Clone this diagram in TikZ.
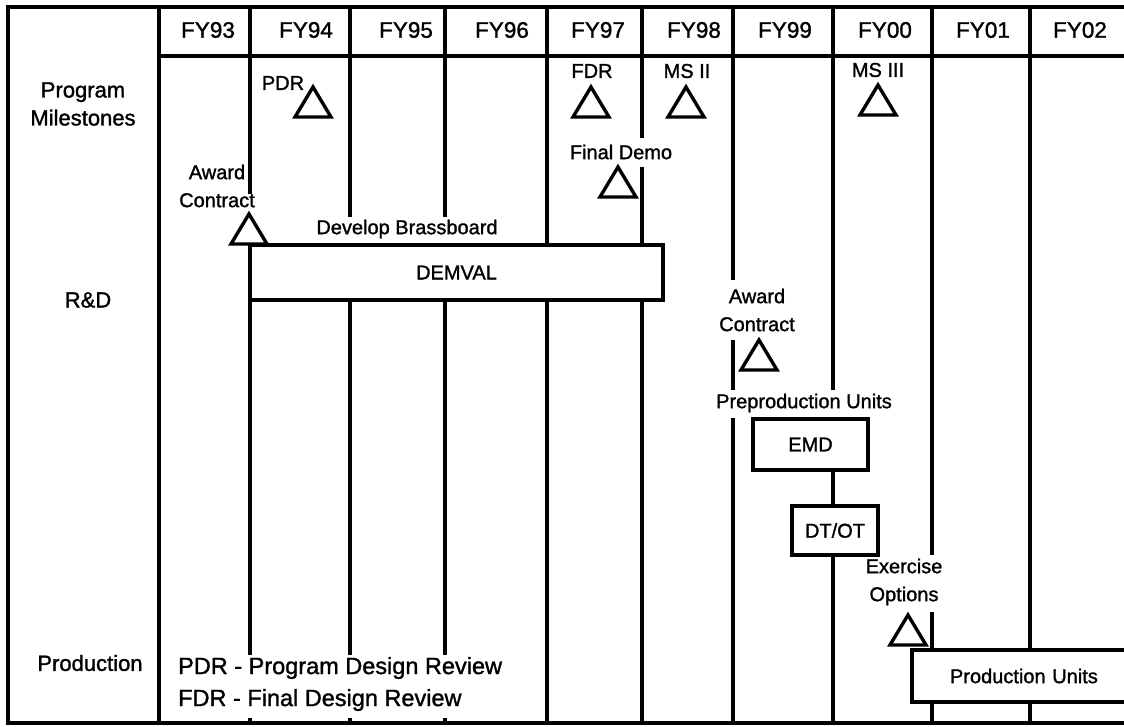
\documentclass[tikz,border=0pt]{standalone}
\usepackage{fontspec}
\setmainfont{Liberation Sans}[BoldFont={Liberation Sans},BoldFeatures={FakeBold=1.3}]
\newcommand{\hdrfont}{\fontsize{22.5}{26}\selectfont\bfseries}
\newcommand{\sidefont}{\fontsize{22}{28}\selectfont\bfseries}
\newcommand{\lblfont}{\fontsize{20}{28}\selectfont\bfseries}
\newcommand{\legfont}{\fontsize{23.5}{32}\selectfont\bfseries}
\begin{document}
\begin{tikzpicture}[x=1pt,y=-1pt,
  gridline/.style={line width=3.2pt},
  tri/.style={line width=3.4pt, line join=miter},
  hdr/.style={font=\hdrfont, inner sep=0pt},
  side/.style={font=\sidefont, inner sep=0pt, align=center},
  lbl/.style={font=\lblfont, inner sep=0pt, align=center},
  boxnode/.style={draw, line width=3.2pt, fill=white, inner sep=0pt, font=\lblfont},
  ms/.pic={\draw[tri] (-18,15) -- (0,-15) -- (18,15) -- cycle;}
]
\useasboundingbox (0,0) rectangle (1124,727);
% frame and header
\draw[gridline, line join=miter] (1130,7) -- (8,7) -- (8,723) -- (1130,723);
\draw[gridline] (159,56) -- (1130,56);
% vertical grid segments
\foreach \x/\a/\b in {159/7/723,
  250/7/194, 250/300/655, 250/718/723,
  350/7/217, 350/300/655, 350/718/723,
  445/7/217, 445/300/655, 445/718/723,
  547/7/245, 547/300/723,
  642/7/138, 642/167/245, 642/300/723,
  733/7/280, 733/340/390, 733/418/723,
  833/7/390, 833/555/723,
  932/7/555, 932/612/650, 932/702/723,
  1030/7/650, 1030/702/723}
  \draw[gridline] (\x,\a) -- (\x,\b);
% header labels
\foreach \x/\t in {208/FY93, 306/FY94, 406/FY95, 502/FY96, 598/FY97,
  694/FY98, 785/FY99, 885/FY00, 983/FY01, 1080/FY02}
  \node[hdr] (h\t) at (\x,30) {\t};
% side labels
\node[side] (pm) at (83,104) {Program\\Milestones};
\node[side] (rd) at (88,300) {R\&D};
\node[side] (prod) at (90,663) {Production};
% milestones
\node[lbl] (pdr) at (283,83) {PDR};
\pic at (313,102) {ms};
\node[lbl] (aw1) at (217,186) {Award\\Contract};
\pic at (249,229) {ms};
\node[lbl] (fdr) at (592,71) {FDR};
\pic at (591,102) {ms};
\node[lbl] (ms2) at (687,71) {MS II};
\pic at (686,102) {ms};
\node[lbl] (fdemo) at (621,152) {Final Demo};
\pic at (618,182) {ms};
\node[lbl] (ms3) at (878,70) {MS III};
\pic at (878,100) {ms};
\node[lbl] (brass) at (407,229) {Develop Brassboard};
% R&D boxes
\node[boxnode, minimum width=413pt, minimum height=55pt] (demval) at (456.5,272.5) {DEMVAL};
\node[lbl] (aw2) at (757,310) {Award\\Contract};
\pic at (759,355) {ms};
\node[lbl] (preprod) at (804,403) {Preproduction Units};
\node[boxnode, minimum width=115pt, minimum height=51pt] (emd) at (810.5,444.5) {EMD};
\node[boxnode, minimum width=86pt, minimum height=49pt] (dtot) at (835,530.5) {DT/OT};
\draw[gridline] (emd.south -| 833,0) -- (dtot.north -| 833,0);
% production
\node[lbl] (exo) at (904,582) {Exercise\\Options};
\pic at (908,630) {ms};
\node[boxnode, minimum width=230pt, minimum height=52pt, text width=226pt, align=left] (pu) at (1027,676) {\hspace*{36pt}Production Units};
% legend
\node[font=\legfont, inner sep=0pt, align=left, anchor=west] (legend) at (178,684)
  {PDR - Program Design Review\\FDR - Final Design Review};
\end{tikzpicture}
\end{document}
